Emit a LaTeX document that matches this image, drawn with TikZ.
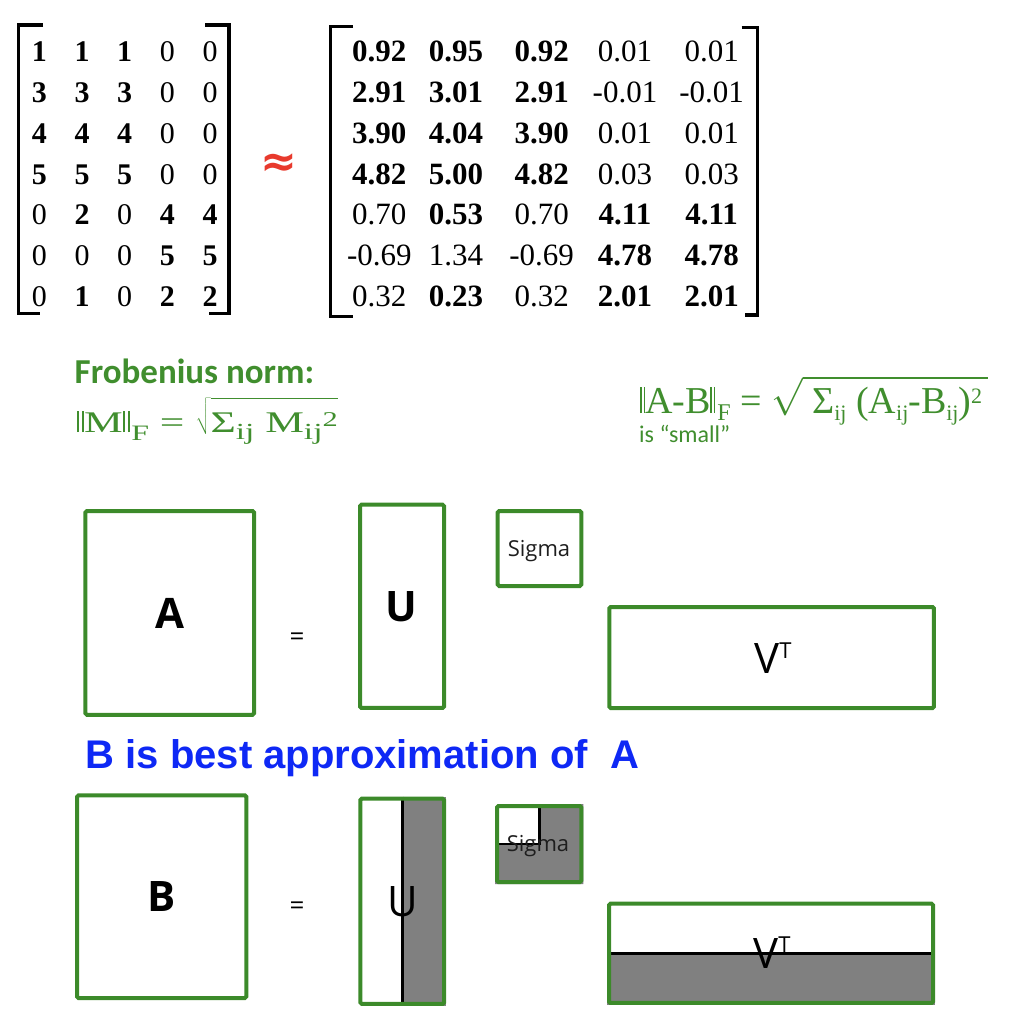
\RequirePackage{fix-cm}
\documentclass[tikz,border=0pt]{standalone}
\usepackage{fontspec}
\setmainfont{Liberation Serif}
\newfontfamily\carl{Carlito}
\newfontfamily\osans{Open Sans}
\newfontfamily\arl{Liberation Sans}
\newfontfamily\djv{DejaVu Sans}
\usepackage{graphicx}
\definecolor{grn}{RGB}{60,138,42}
\definecolor{tgrn}{RGB}{64,142,46}
\definecolor{blu}{RGB}{14,40,245}
\definecolor{redx}{RGB}{232,58,45}
\definecolor{grayfill}{RGB}{128,128,128}
\definecolor{sigtxt}{RGB}{30,30,30}
\pgfdeclarelayer{bg}
\pgfsetlayers{bg,main}
\newcommand\nrmbar{\rule{1.3pt}{0.69em}\kern2.2pt\rule{1.3pt}{0.69em}}
\newcommand\fsz[1]{\fontsize{#1}{#1}\selectfont}
\def\rx#1{\ifcase#1\or379.3\or456\or541.7\or625\or711.7\fi}
\tikzset{
  lent/.style={anchor=base, inner sep=0pt, font=\fsz{30}},
  rent/.style={anchor=base, inner sep=0pt, font=\fsz{31}},
  brk/.style={line width=3.2pt, line join=miter},
  matbox/.style={draw=grn, line width=4pt, rounded corners=1.5pt, inner sep=0pt},
  boxlbl/.style={anchor=base, inner sep=0pt, font=\osans\fsz{42}},
  eqs/.style={anchor=base, inner sep=0pt, font=\osans\fsz{26}},
  divl/.style={line width=2.7pt, black},
  sig/.style={anchor=base, inner sep=0pt, font=\osans\fsz{22}, text=sigtxt}
}
\begin{document}
\begin{tikzpicture}[x=1pt,y=-1pt]
\useasboundingbox (0,0) rectangle (1012,1024);
% ---------- left matrix ----------
\foreach \v [count=\c] in {\textbf{1},\textbf{1},\textbf{1},0,0}
  \node[lent] (L1\c) at ({39.3+42.7*(\c-1)},61.7) {\v};
\foreach \v [count=\c] in {\textbf{3},\textbf{3},\textbf{3},0,0}
  \node[lent] (L2\c) at ({39.3+42.7*(\c-1)},102.5) {\v};
\foreach \v [count=\c] in {\textbf{4},\textbf{4},\textbf{4},0,0}
  \node[lent] (L3\c) at ({39.3+42.7*(\c-1)},143.4) {\v};
\foreach \v [count=\c] in {\textbf{5},\textbf{5},\textbf{5},0,0}
  \node[lent] (L4\c) at ({39.3+42.7*(\c-1)},184.2) {\v};
\foreach \v [count=\c] in {0,\textbf{2},0,\textbf{4},\textbf{4}}
  \node[lent] (L5\c) at ({39.3+42.7*(\c-1)},225.0) {\v};
\foreach \v [count=\c] in {0,0,0,\textbf{5},\textbf{5}}
  \node[lent] (L6\c) at ({39.3+42.7*(\c-1)},265.9) {\v};
\foreach \v [count=\c] in {0,\textbf{1},0,\textbf{2},\textbf{2}}
  \node[lent] (L7\c) at ({39.3+42.7*(\c-1)},306.7) {\v};
\draw[brk] (43,25) -- (18.5,25) -- (18.5,313.5) -- (40,313.5);
\draw[brk] (205,25) -- (229,25) -- (229,313.5) -- (209,313.5);
% approx sign
\node[inner sep=0pt, text=redx, font={\djv\bfseries\fsz{44}}] (apx) at (279,165) {≈};
% ---------- right matrix ----------
\foreach \v [count=\c] in {\textbf{0.92},\textbf{0.95},\textbf{0.92},0.01,0.01}
  \node[rent] (R1\c) at ({\rx{\c}},61.7) {\v};
\foreach \v [count=\c] in {\textbf{2.91},\textbf{3.01},\textbf{2.91},-0.01,-0.01}
  \node[rent] (R2\c) at ({\rx{\c}},102.5) {\v};
\foreach \v [count=\c] in {\textbf{3.90},\textbf{4.04},\textbf{3.90},0.01,0.01}
  \node[rent] (R3\c) at ({\rx{\c}},143.4) {\v};
\foreach \v [count=\c] in {\textbf{4.82},\textbf{5.00},\textbf{4.82},0.03,0.03}
  \node[rent] (R4\c) at ({\rx{\c}},184.2) {\v};
\foreach \v [count=\c] in {0.70,\textbf{0.53},0.70,\textbf{4.11},\textbf{4.11}}
  \node[rent] (R5\c) at ({\rx{\c}},225.0) {\v};
\foreach \v [count=\c] in {-0.69,1.34,-0.69,\textbf{4.78},\textbf{4.78}}
  \node[rent] (R6\c) at ({\rx{\c}},265.9) {\v};
\foreach \v [count=\c] in {0.32,\textbf{0.23},0.32,\textbf{2.01},\textbf{2.01}}
  \node[rent] (R7\c) at ({\rx{\c}},306.7) {\v};
\draw[brk] (353,26.7) -- (330.8,26.7) -- (330.8,316.5) -- (353,316.5);
\draw[brk] (741.7,27.5) -- (757.5,27.5) -- (757.5,315) -- (745,315);
% ---------- Frobenius ----------
\node[anchor=base west, inner sep=0pt, text=tgrn, font=\carl\bfseries\fsz{35}] (frob) at (74.5,383) {Frobenius norm:};
\node[anchor=base west, inner sep=0pt, text=tgrn, font=\fsz{30}] (fnorm) at (77,432)
  {\scalebox{1.45}[1]{\nrmbar M\nrmbar\kern1pt\raisebox{-8pt}{\fsz{22}F} = $\sqrt{\rule{0pt}{31pt}\smash{\mbox{Σ\raisebox{-7pt}{\fsz{23}ij} M\raisebox{-7pt}{\fsz{23}ij}\raisebox{6pt}{\fsz{21}2}}}}$}};
\node[anchor=base west, inner sep=0pt, text=tgrn, font=\fsz{38}] (abnorm) at (640,413)
  {\nrmbar A-B\nrmbar\kern2pt\raisebox{-7.5pt}{\fsz{24}F} = $\sqrt{\rule{0pt}{31pt}\smash{\mbox{\ Σ\raisebox{-7pt}{\fsz{22}ij} (A\raisebox{-7pt}{\fsz{22}ij}-B\raisebox{-7pt}{\fsz{22}ij})\raisebox{10pt}{\fsz{22}2}\kern6pt}}}$};
\node[anchor=base west, inner sep=0pt, text=tgrn, font=\carl\fsz{24}] (small) at (639,442) {is “small”};
% ---------- top SVD ----------
\node[matbox, minimum width=168.7pt, minimum height=203.7pt] (A) at (169.7,612.9) {};
\node[matbox, minimum width=84pt, minimum height=203.3pt] (U) at (402,606.3) {};
\node[matbox, minimum width=83.6pt, minimum height=75pt] (S) at (539.5,548.5) {};
\node[matbox, minimum width=324.7pt, minimum height=101pt] (V) at (771.6,657.5) {};
\node[boxlbl, font=\osans\bfseries\fsz{42}] (Alab) at (170,628.3) {A};
\node[eqs] (eq1) at (297,645) {=};
\node[boxlbl, font=\osans\bfseries\fsz{42}] (Ulab) at (401.7,621.5) {U};
\node[sig] (Slab) at (539,556.7) {Sigma};
\node[boxlbl] (Vlab) at (773,673.3) {V\raisebox{15pt}{\fsz{22}T}};
% ---------- blue text ----------
\node[anchor=base west, inner sep=0pt, text=blu, font=\arl\bfseries\fsz{40}] (best) at (85.5,768.3) {B is best approximation of \ A};
% ---------- bottom SVD ----------
\node[matbox, minimum width=169.3pt, minimum height=202.7pt] (B) at (161.7,896.7) {};
\node[matbox, minimum width=83.7pt, minimum height=205.3pt] (U2) at (402.2,901.3) {};
\node[matbox, minimum width=84.3pt, minimum height=76pt] (S2) at (539.2,844) {};
\node[matbox, minimum width=324pt, minimum height=99.3pt] (V2) at (771,953.3) {};
\begin{pgfonlayer}{bg}
  \fill[grayfill] (U2.north) rectangle (U2.south east);
  \fill[grayfill] (S2.north) -- (S2.north east) -- (S2.south east) -- (S2.south west) -- (S2.west) -- (S2.center) -- cycle;
  \fill[grayfill] (V2.west) rectangle (V2.south east);
  \draw[divl] (U2.north) -- (U2.south);
  \draw[divl] (S2.north) -- (S2.center) -- (S2.west);
  \draw[divl] (V2.west) -- (V2.east);
\end{pgfonlayer}
\node[boxlbl, font=\osans\bfseries\fsz{42}] (Blab) at (161.7,911.7) {B};
\node[eqs] (eq2) at (297,914.5) {=};
\node[boxlbl] (U2lab) at (402.5,916.5) {U};
\node[sig] (S2lab) at (538,851.7) {Sigma};
\node[boxlbl] (V2lab) at (772,968.3) {V\raisebox{15.5pt}{\fsz{22}T}};
\end{tikzpicture}
\end{document}
